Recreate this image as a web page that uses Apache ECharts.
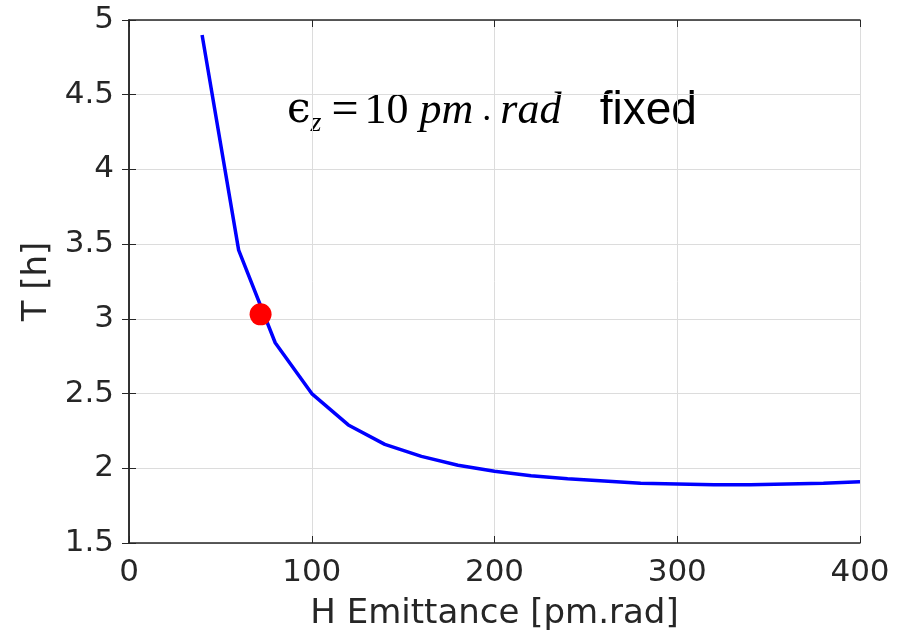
<!DOCTYPE html>
<html>
<head>
<meta charset="utf-8">
<script src="https://cdn.jsdelivr.net/npm/echarts@6/dist/echarts.min.js"></script>
<style>
  html, body { margin: 0; padding: 0; background: #fff; }
  #chart { width: 904px; height: 636px; }
</style>
</head>
<body>
<div id="chart"></div>
<script type="text/javascript">
    // H emittance [pm.rad] vs lifetime T [h]
    var emitH = [40, 60, 80, 100, 120, 140, 160, 180, 200, 220, 240, 260, 280, 300, 320, 340, 360, 380, 400];
    var lifetime = [4.9, 3.46, 2.84, 2.50, 2.29, 2.16, 2.08, 2.02, 1.98, 1.95, 1.93, 1.915, 1.90, 1.895, 1.89, 1.89, 1.895, 1.90, 1.91];
    var workingPoint = [72, 3.03];
    var xTicks = [0, 100, 200, 300, 400];
    var yTicks = [1.5, 2, 2.5, 3, 3.5, 4, 4.5, 5];

    var axisColor = '#262626';
    var lineData = emitH.map(function (x, i) { return [x, lifetime[i]]; });

    var myChart = echarts.init(document.getElementById('chart'));

    var option = {
        backgroundColor: '#fff',
        animation: false,
        grid: { left: 129, right: 44, top: 20, bottom: 93 },
        xAxis: [
            {
                type: 'value', min: xTicks[0], max: xTicks[xTicks.length - 1], interval: 100,
                name: 'H Emittance [pm.rad]', nameLocation: 'middle', nameGap: 54,
                nameTextStyle: { fontFamily: 'DejaVu Sans', fontSize: 34, color: axisColor },
                axisLine: { show: true, lineStyle: { color: axisColor, width: 1.5 } },
                axisTick: { show: true, inside: true, length: 7, lineStyle: { color: axisColor } },
                axisLabel: { fontFamily: 'DejaVu Sans', fontSize: 31, color: axisColor, margin: 14 },
                splitLine: { show: true, lineStyle: { color: '#dcdcdc', width: 1 } }
            },
            {
                type: 'value', position: 'top', min: 0, max: 400, interval: 100,
                axisLine: { show: true, lineStyle: { color: axisColor, width: 1.5 } },
                axisTick: { show: true, inside: true, length: 7, lineStyle: { color: axisColor } },
                axisLabel: { show: false },
                splitLine: { show: false }
            }
        ],
        yAxis: [
            {
                type: 'value', min: yTicks[0], max: yTicks[yTicks.length - 1], interval: 0.5,
                name: 'T [h]', nameLocation: 'middle', nameGap: 72,
                nameTextStyle: { fontFamily: 'DejaVu Sans', fontSize: 34, color: axisColor },
                axisLine: { show: true, lineStyle: { color: axisColor, width: 1.5 } },
                axisTick: { show: true, inside: true, length: 7, lineStyle: { color: axisColor } },
                axisLabel: { fontFamily: 'DejaVu Sans', fontSize: 31, color: axisColor, margin: 15 },
                splitLine: { show: true, lineStyle: { color: '#dcdcdc', width: 1 } }
            },
            {
                type: 'value', position: 'right', min: 1.5, max: 5, interval: 0.5,
                axisLine: { show: true, lineStyle: { color: axisColor, width: 1.5 } },
                axisTick: { show: true, inside: true, length: 7, lineStyle: { color: axisColor } },
                axisLabel: { show: false },
                splitLine: { show: false }
            }
        ],
        series: [
            {
                name: 'T',
                type: 'line',
                data: lineData,
                showSymbol: false,
                lineStyle: { color: '#0000ff', width: 3.5 },
                z: 3
            },
            {
                name: 'point',
                type: 'scatter',
                data: [workingPoint],
                symbolSize: 22,
                itemStyle: { color: '#ff0000', opacity: 1 },
                z: 4
            }
        ],
        graphic: [
            {
                type: 'text',
                left: 287,
                top: 87,
                style: {
                    text: '{e|ϵ}{s|z}{q|=}{m|10 }{i|pm}{d| . }{i|rad}{f|   fixed}',
                    rich: {
                        e: { fontFamily: 'DejaVu Serif', fontSize: 42, fill: '#000' },
                        s: { fontFamily: 'Liberation Serif', fontStyle: 'italic', fontSize: 28, fill: '#000', padding: [26, 0, 0, 0] },
                        q: { fontFamily: 'Liberation Serif', fontSize: 48, fill: '#000', padding: [0, 6, 0, 10] },
                        m: { fontFamily: 'Liberation Serif', fontSize: 44, fill: '#000' },
                        i: { fontFamily: 'Liberation Serif', fontStyle: 'italic', fontSize: 44, fill: '#000' },
                        d: { fontFamily: 'Liberation Serif', fontSize: 36, fill: '#000' },
                        f: { fontFamily: 'Liberation Sans', fontSize: 46, fill: '#000' }
                    }
                }
            }
        ]
    };
    myChart.setOption(option);
</script>
</body>
</html>
